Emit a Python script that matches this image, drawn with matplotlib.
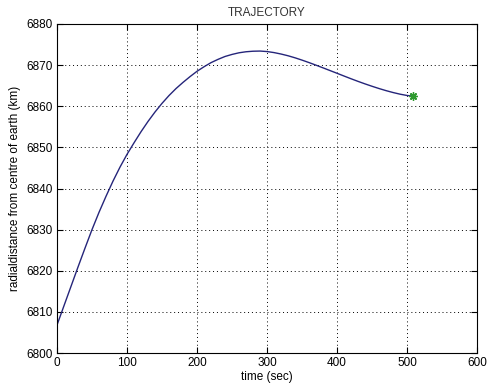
import matplotlib
matplotlib.use("Agg")
import matplotlib.pyplot as plt

t = [0, 10, 20, 30, 40, 50, 60, 70, 80, 90, 100, 110, 120, 130, 140, 150, 160, 170, 180, 190,
     200, 210, 220, 230, 240, 250, 260, 270, 280, 290, 300, 310, 320, 330, 340, 350, 360, 370,
     380, 390, 400, 410, 420, 430, 440, 450, 460, 470, 480, 490, 500, 505]
r = [6806.8, 6811.5, 6816.2, 6820.9, 6825.5, 6830.0, 6834.2, 6838.1, 6841.8, 6845.2,
     6848.3, 6851.1, 6853.8, 6856.3, 6858.6, 6860.7, 6862.6, 6864.3, 6865.8, 6867.2,
     6868.5, 6869.6, 6870.6, 6871.4, 6872.1, 6872.6, 6873.0, 6873.25, 6873.38, 6873.42,
     6873.3, 6873.05, 6872.7, 6872.28, 6871.78, 6871.22, 6870.62, 6869.99, 6869.34, 6868.68,
     6868.02, 6867.35, 6866.69, 6866.05, 6865.44, 6864.86, 6864.31, 6863.80, 6863.34, 6862.94,
     6862.62, 6862.52]
end_t = [509]
end_r = [6862.4]
xticks = [0, 100, 200, 300, 400, 500, 600]
yticks = [6800, 6810, 6820, 6830, 6840, 6850, 6860, 6870, 6880]

plt.rcParams['font.family'] = ['Liberation Sans', 'DejaVu Sans']
fig = plt.figure(figsize=(4.87, 3.86), dpi=100)
ax = fig.add_axes([57/487, 33/386, 420/487, 329/386])
ax.plot(t, r, color='#25257a', lw=1.0)
ax.plot(end_t, end_r, marker=(8, 2, 0), color='#2e9a2e', mec='#2e9a2e', mew=1.0, ms=6, ls='none')
ax.set_xlim(0, 600)
ax.set_ylim(6800, 6880)
ax.set_xticks(xticks)
ax.set_yticks(yticks)
ax.tick_params(direction='in', top=True, right=True, labelsize=8.5, length=4, colors='black', pad=3)
ax.grid(True, linestyle=(0, (1, 3)), color='black', lw=0.7)
for s in ax.spines.values():
    s.set_linewidth(0.8)
ax.set_title('TRAJECTORY', fontsize=8.5, pad=6, color='#333333')
ax.set_xlabel('time (sec)', fontsize=8.5, labelpad=1)
ax.set_ylabel('radialdistance from centre of earth (km)', fontsize=8.5, labelpad=4)
fig.savefig('out.png', dpi=100)
